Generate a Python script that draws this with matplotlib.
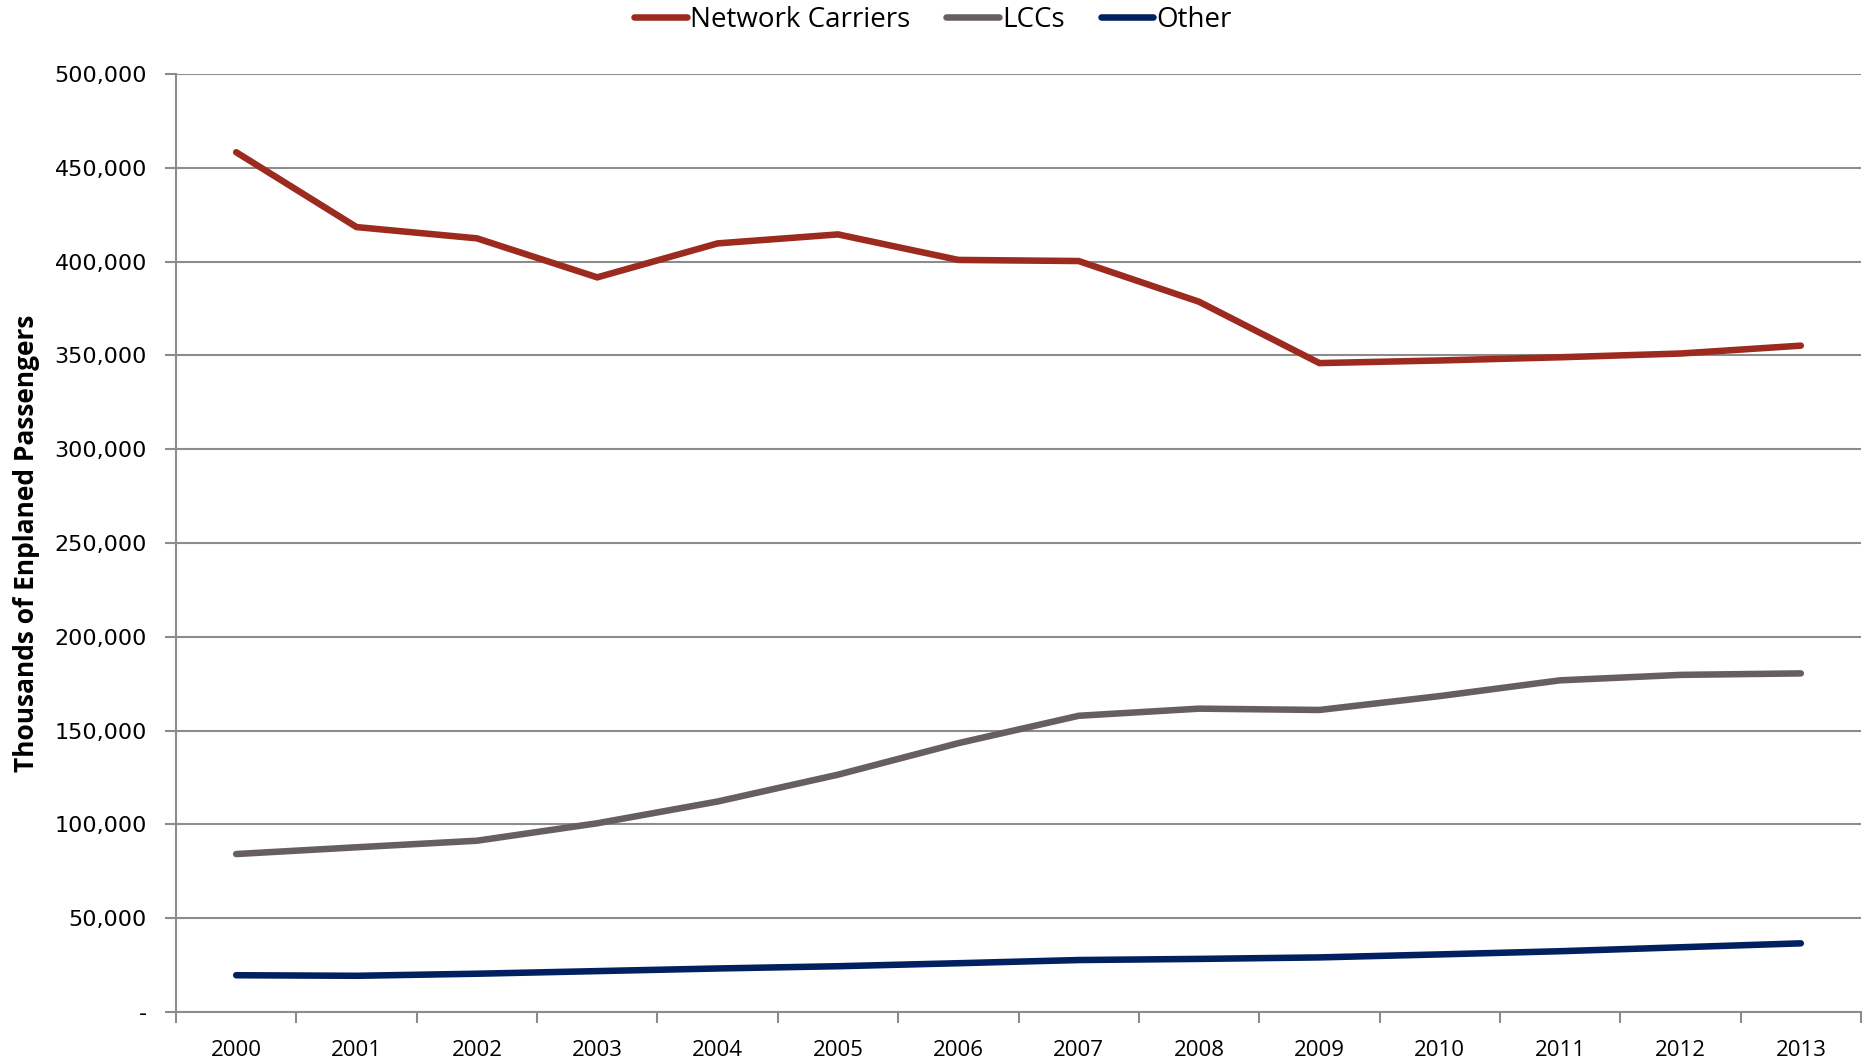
import matplotlib
matplotlib.use("Agg")
import matplotlib.pyplot as plt
from matplotlib.ticker import FixedLocator, FuncFormatter

years = ["2000", "2001", "2002", "2003", "2004", "2005", "2006",
         "2007", "2008", "2009", "2010", "2011", "2012", "2013"]
network = [458300, 418400, 412400, 391600, 409700, 414500, 400900,
           400300, 378600, 345900, 347300, 349000, 351000, 355200]
lccs = [84200, 87800, 91300, 100600, 112200, 126500, 143300,
        157900, 161700, 161000, 168400, 176800, 179700, 180500]
other = [19600, 19300, 20400, 21800, 23200, 24400, 26000,
         27700, 28300, 29100, 30700, 32400, 34500, 36600]
yticks = [0, 50000, 100000, 150000, 200000, 250000, 300000, 350000, 400000, 450000, 500000]

c_net = "#9C2A1E"
c_lcc = "#675F5F"
c_oth = "#00205F"
grid_c = "#8C8C8C"

fig = plt.figure(figsize=(18.66, 10.62), dpi=100)
ax = fig.add_axes([176/1866, 1 - 1012/1062, (1861-176)/1866, (1012-74)/1062])

x = list(range(len(years)))
lw = 4.7
l1, = ax.plot(x, network, color=c_net, lw=lw, solid_capstyle="round", solid_joinstyle="miter", label="Network Carriers", zorder=3)
l2, = ax.plot(x, lccs, color=c_lcc, lw=lw, solid_capstyle="round", solid_joinstyle="miter", label="LCCs", zorder=3)
l3, = ax.plot(x, other, color=c_oth, lw=lw, solid_capstyle="round", solid_joinstyle="miter", label="Other", zorder=3)

ax.set_xlim(-0.5, len(years) - 0.5)
ax.set_ylim(0, 500000)

ax.yaxis.set_major_locator(FixedLocator(yticks))
ax.yaxis.set_major_formatter(FuncFormatter(lambda v, p: "-" if v == 0 else f"{int(v):,}"))
ax.grid(axis="y", color=grid_c, lw=1.5, zorder=1)
ax.set_axisbelow(True)

# x: boundary ticks (major) and labels at centers (minor)
ax.xaxis.set_major_locator(FixedLocator([i - 0.5 for i in range(len(years) + 1)]))
ax.xaxis.set_major_formatter(FuncFormatter(lambda v, p: ""))
ax.set_xticks(x, minor=True)
ax.set_xticklabels(years, minor=True)
ax.tick_params(axis="x", which="major", direction="out", length=8, width=1.5, color=grid_c)
ax.tick_params(axis="x", which="minor", length=0, pad=20, labelsize=16)
for lab in ax.get_xticklabels(minor=True):
    lab.set_fontfamily("Open Sans")

ax.tick_params(axis="y", direction="out", length=8, width=1.5, color=grid_c, pad=13, labelsize=16)

for s in ["top", "right"]:
    ax.spines[s].set_visible(False)
for s in ["left", "bottom"]:
    ax.spines[s].set_color(grid_c)
    ax.spines[s].set_linewidth(1.5)

ax.set_ylabel("Thousands of Enplaned Passengers", fontsize=19, fontweight="bold", family="Open Sans")
ax.yaxis.set_label_coords(-0.081, 0.5)

leg = fig.legend(handles=[l1, l2, l3], loc="upper center", bbox_to_anchor=(0.5, 1.018), ncol=3,
                 frameon=False, handlelength=1.9, handletextpad=0.1, columnspacing=1.3,
                 prop={"family": "Open Sans", "size": 20})

fig.savefig("out.png", dpi=100, facecolor="white")
